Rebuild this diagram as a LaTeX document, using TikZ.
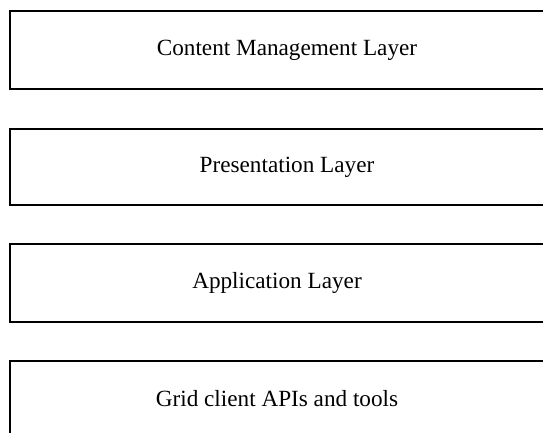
\documentclass[tikz,border=0pt]{standalone}
\usepackage{fontspec}
\setmainfont{Liberation Serif}
\begin{document}
\begin{tikzpicture}[x=1pt,y=-1pt,
  layerbox/.style={draw=black,line width=1.2pt},
  layertext/.style={font=\fontsize{23.2}{28}\selectfont,inner sep=0pt}]
\useasboundingbox (0,0) rectangle (543,432);
\clip (0,0) rectangle (543,432);
\fill[white] (0,0) rectangle (543,432);
\draw[layerbox] (10,11) rectangle (560,89);
\draw[layerbox] (10,129) rectangle (560,205);
\draw[layerbox] (10,244) rectangle (560,322);
\draw[layerbox] (10,361) rectangle (560,450);
\node[layertext] (cm) at (287,50) {Content Management Layer};
\node[layertext] (pl) at (287,167) {Presentation Layer};
\node[layertext] (al) at (277,283) {Application Layer};
\node[layertext] (gc) at (277,399) {Grid client APIs and tools};
\end{tikzpicture}
\end{document}
